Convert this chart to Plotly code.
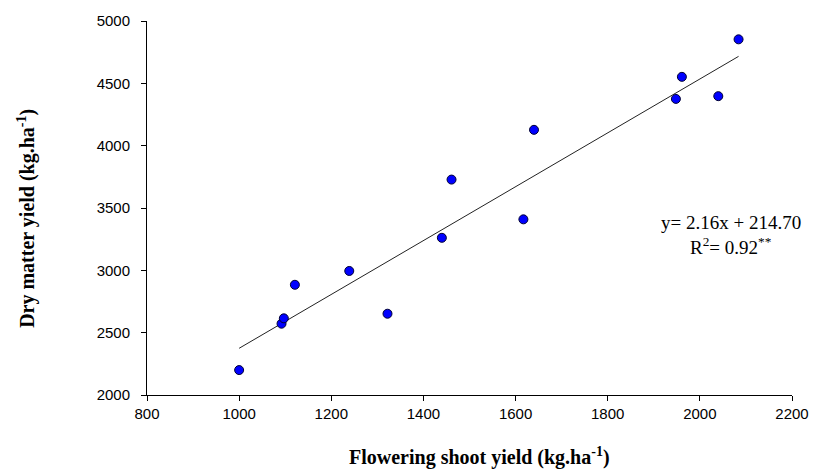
import numpy as np
import plotly.graph_objects as go

# Data
flowering_shoot_yield = [1000, 1092, 1097, 1121, 1239, 1322, 1440, 1461,
                         1617, 1640, 1948, 1961, 2040, 2084]
dry_matter_yield = [2200, 2572, 2615, 2884, 2995, 2652, 3261, 3728,
                    3409, 4127, 4375, 4552, 4397, 4853]

# Regression equation as printed on the chart
slope = 2.16
intercept = 214.70
r_squared = 0.92

x_ticks = [800, 1000, 1200, 1400, 1600, 1800, 2000, 2200]
y_ticks = [2000, 2500, 3000, 3500, 4000, 4500, 5000]

fit_x = np.array([min(flowering_shoot_yield), max(flowering_shoot_yield)])
fit_y = slope * fit_x + intercept

fig = go.Figure()
fig.add_trace(go.Scatter(
    x=fit_x, y=fit_y, mode="lines",
    line=dict(color="#222222", width=1),
    hoverinfo="skip", showlegend=False,
))
fig.add_trace(go.Scatter(
    x=flowering_shoot_yield, y=dry_matter_yield, mode="markers",
    marker=dict(color="#0000FF", size=9, line=dict(color="#000033", width=1)),
    showlegend=False,
))

serif = "Liberation Serif, Times New Roman, serif"
sans = "Liberation Sans, Arial, sans-serif"

fig.update_layout(
    width=821, height=470,
    margin=dict(l=147, r=21, t=16, b=75),
    paper_bgcolor="white", plot_bgcolor="white",
    font=dict(family=sans, size=15, color="black"),
    xaxis=dict(
        range=[800, 2200], tickvals=x_ticks, ticktext=[str(v) for v in x_ticks],
        showgrid=False, zeroline=False, showline=True, linecolor="black",
        linewidth=1, ticks="outside", ticklen=5, tickcolor="black",
        tickfont=dict(family=sans, size=15, color="black"),
    ),
    yaxis=dict(
        range=[2000, 5000], tickvals=y_ticks, ticktext=[str(v) for v in y_ticks],
        showgrid=False, zeroline=False, showline=True, linecolor="black",
        linewidth=1, ticks="outside", ticklen=5, tickcolor="black",
        tickfont=dict(family=sans, size=15, color="black"),
        ticklabelstandoff=8,
    ),
    annotations=[
        dict(text="<b>Flowering shoot yield (kg.ha<sup>-1</sup>)</b>",
             xref="paper", yref="paper", x=0.516, y=-0.164,
             xanchor="center", yanchor="middle", showarrow=False,
             font=dict(family=serif, size=20, color="black")),
        dict(text="<b>Dry matter yield (kg.ha<sup>-1</sup>)</b>",
             xref="paper", yref="paper", x=-0.187, y=0.472,
             xanchor="center", yanchor="middle", showarrow=False, textangle=-90,
             font=dict(family=serif, size=20, color="black")),
        dict(text=f"y= {slope:.2f}x + {intercept:.2f}",
             xref="paper", yref="paper", x=0.905, y=0.461,
             xanchor="center", yanchor="middle", showarrow=False,
             font=dict(family=serif, size=19, color="black")),
        dict(text=f"R<sup>2</sup>= {r_squared:.2f}<sup>**</sup>",
             xref="paper", yref="paper", x=0.905, y=0.398,
             xanchor="center", yanchor="middle", showarrow=False,
             font=dict(family=serif, size=19, color="black")),
    ],
)

fig.write_html(
    "out.html",
    config={"displayModeBar": False},
    post_script="document.body.style.margin='0';"
                "document.body.style.overflow='hidden';",
)
